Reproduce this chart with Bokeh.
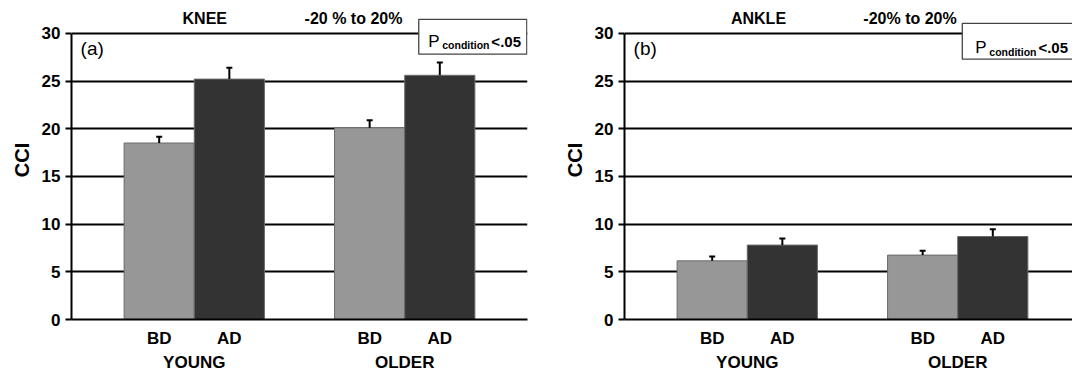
from bokeh.plotting import figure
from bokeh.layouts import row
from bokeh.models import (ColumnDataSource, Range1d, FixedTicker, LinearAxis,
                          Whisker, TeeHead, Label, BoxAnnotation)
from bokeh.embed import file_html
from bokeh.resources import INLINE

# ---------------- data ----------------
groups = ["YOUNG", "OLDER"]
conditions = ["BD", "AD"]
knee_mean = [18.5, 25.2, 20.1, 25.6]
knee_err = [0.65, 1.2, 0.8, 1.35]
ankle_mean = [6.15, 7.8, 6.75, 8.7]
ankle_err = [0.45, 0.7, 0.45, 0.75]
y_ticks = [0, 5, 10, 15, 20, 25, 30]

FONT = "Liberation Sans"
INK = "black"
cond_colors = {"BD": "#979797", "AD": "#333333"}
Y_TOP = 33.44  # headroom above 30 for titles and the p-value box


def positions():
    xs, labels, colors = [], [], []
    for g, _grp in enumerate(groups):
        for c, cond in enumerate(conditions):
            xs.append(1.25 + 3 * g + c)
            labels.append(cond)
            colors.append(cond_colors[cond])
    centers = [1.75 + 3 * g for g in range(len(groups))]
    return xs, labels, colors, centers


def make_panel(means, errs, width, left, right, x_end, title, tag, box, box_right, ptext):
    xs, labels, colors, centers = positions()
    p = figure(width=width, height=374, x_range=Range1d(0, x_end), y_range=Range1d(0, Y_TOP),
               output_backend="svg", toolbar_location=None,
               min_border_left=left, min_border_right=right,
               min_border_top=0, min_border_bottom=53,
               background_fill_color="white", border_fill_color="white",
               outline_line_color=None)
    src = ColumnDataSource(dict(x=xs, mean=means, upper=[m + e for m, e in zip(means, errs)],
                                color=colors))
    p.vbar(x="x", top="mean", width=1.0, fill_color="color", line_color="#6a6a6a",
           line_width=1, source=src)
    w = Whisker(source=src, base="x", upper="upper", lower="mean",
                upper_head=TeeHead(size=6, line_width=2, line_color=INK),
                lower_head=None, line_width=2, line_color=INK, level="annotation")
    p.add_layout(w)

    # y axis
    ya = p.yaxis[0]
    ya.ticker = FixedTicker(ticks=y_ticks)
    ya.bounds = (0, 30)
    ya.axis_label = "CCI"
    ya.axis_label_text_font = FONT
    ya.axis_label_text_font_style = "bold"
    ya.axis_label_text_font_size = "20px"
    ya.axis_label_text_color = INK
    ya.axis_label_standoff = 6
    ya.major_label_text_font = FONT
    ya.major_label_text_font_style = "bold"
    ya.major_label_text_font_size = "17px"
    ya.major_label_text_color = INK
    ya.major_label_standoff = 5
    ya.major_tick_in = 0
    ya.major_tick_out = 6
    ya.major_tick_line_width = 2
    ya.major_tick_line_color = INK
    ya.minor_tick_line_color = None
    ya.axis_line_width = 2
    ya.axis_line_color = INK

    # x axis (conditions)
    xa = p.xaxis[0]
    xa.ticker = FixedTicker(ticks=xs)
    xa.major_label_overrides = {x: lab for x, lab in zip(xs, labels)}
    xa.major_label_text_font = FONT
    xa.major_label_text_font_style = "bold"
    xa.major_label_text_font_size = "17px"
    xa.major_label_text_color = INK
    xa.major_label_standoff = 9
    xa.major_tick_in = 0
    xa.major_tick_out = 0
    xa.major_tick_line_color = None
    xa.minor_tick_line_color = None
    xa.axis_line_width = 2
    xa.axis_line_color = INK

    # second x axis (groups)
    ga = LinearAxis(ticker=FixedTicker(ticks=centers),
                    major_label_overrides={c: g for c, g in zip(centers, groups)},
                    major_label_text_font=FONT, major_label_text_font_style="bold",
                    major_label_text_font_size="17px", major_label_text_color=INK,
                    major_label_standoff=2,
                    axis_line_color=None, major_tick_line_color=None,
                    minor_tick_line_color=None, major_tick_in=0, major_tick_out=0)
    p.add_layout(ga, "below")

    p.xgrid.grid_line_color = None
    p.ygrid.ticker = FixedTicker(ticks=y_ticks)
    p.ygrid.grid_line_color = INK
    p.ygrid.grid_line_width = 1.8
    p.ygrid.level = "underlay"

    # titles
    for txt, tx in title:
        p.add_layout(Label(x=tx, y=31.56, text=txt, text_font=FONT, text_color=INK,
                           text_font_style="bold", text_font_size="16px",
                           text_align="center", text_baseline="middle"))
    # panel tag
    p.add_layout(Label(x=0.13, y=28.44, text=tag, text_font=FONT, text_color=INK,
                       text_font_size="19px", text_align="left", text_baseline="middle"))
    # p-value box
    bl, bt, bb, px_, py_ = box
    p.add_layout(BoxAnnotation(left=bl, right=box_right, top=bt, bottom=bb,
                               fill_color="white", fill_alpha=1.0,
                               line_color="#444444", line_alpha=1.0, line_width=1.3,
                               level="annotation"))
    p.add_layout(Label(x=px_, y=py_, text=ptext[0], text_font=FONT, text_font_size="17px",
                       text_color=INK, text_align="left", text_baseline="alphabetic"))
    p.add_layout(Label(x=px_ + 0.2, y=py_ - 0.42, text=ptext[1], text_font=FONT,
                       text_color=INK, text_font_style="bold", text_font_size="10.5px",
                       text_align="left", text_baseline="alphabetic"))
    p.add_layout(Label(x=px_ + 0.9, y=py_, text=ptext[2], text_font=FONT,
                       text_color=INK, text_font_style="bold", text_font_size="15px",
                       text_align="left", text_baseline="alphabetic"))
    return p


ptext = ["P", "condition", "<.05"]
p1 = make_panel(knee_mean, knee_err, 548, 71, 21, 6.5,
                [("KNEE", 1.9), ("-20 % to 20%", 4.02)], "(a)",
                (4.95, 31.46, 27.81, 5.085, 29.17), 6.49, ptext)
p2 = make_panel(ankle_mean, ankle_err, 524, 76, 0, 6.386,
                [("ANKLE", 1.91), ("-20% to 20%", 4.07)], "(b)",
                (4.815, 31.04, 27.29, 5.0, 28.51), 6.8, ptext)

layout = row(p1, p2)
open("out.html", "w").write(file_html(layout, INLINE))
